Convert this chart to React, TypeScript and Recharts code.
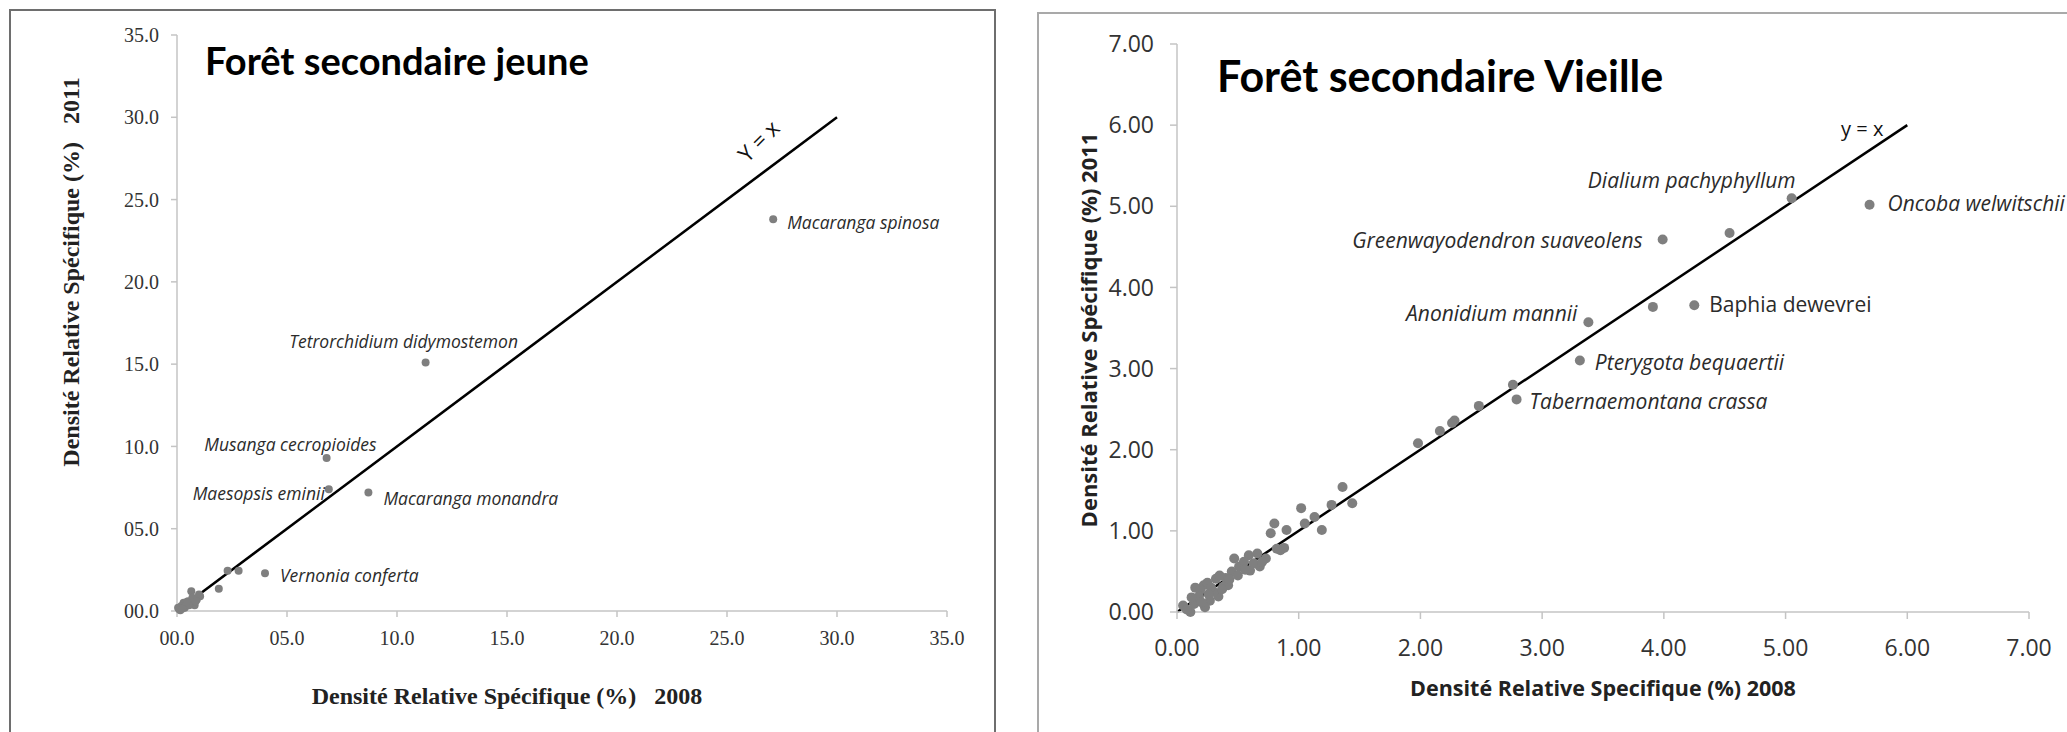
import React from "react";
import {
  ScatterChart,
  Scatter,
  XAxis,
  YAxis,
  ReferenceLine,
  ReferenceDot,
  Label,
} from "recharts";

// Forêt secondaire jeune : espèces nommées
const jeuneEspeces = [
  "Macaranga spinosa",
  "Tetrorchidium didymostemon",
  "Musanga cecropioides",
  "Maesopsis eminii",
  "Macaranga monandra",
  "Vernonia conferta",
];
const jeune2008 = [27.1, 11.3, 6.8, 6.9, 8.7, 4.0];
const jeune2011 = [23.8, 15.1, 9.3, 7.4, 7.2, 2.3];
// autres espèces (sans nom)
const jeuneAutres2008 = [2.8, 2.3, 1.9, 0.65, 1.05, 0.8, 0.3, 0.1, 0.2, 0.4, 0.5, 0.6, 0.7, 0.9, 1.0, 0.15, 0.35, 0.55, 0.05, 0.25, 0.45, 0.85];
const jeuneAutres2011 = [2.45, 2.45, 1.35, 1.2, 0.9, 0.35, 0.5, 0.1, 0.3, 0.3, 0.6, 0.5, 0.8, 0.7, 1.0, 0.05, 0.2, 0.35, 0.2, 0.15, 0.55, 0.6];
const jeuneTicks = [0, 5, 10, 15, 20, 25, 30, 35];
const jeuneDiag = [0, 30];

// Forêt secondaire vieille : espèces nommées
const vieilleEspeces = [
  "Dialium pachyphyllum",
  "Oncoba welwitschii",
  "Greenwayodendron suaveolens",
  "Baphia dewevrei",
  "Anonidium mannii",
  "Pterygota bequaertii",
  "Tabernaemontana crassa",
];
const vieille2008 = [5.05, 5.69, 3.99, 4.25, 3.38, 3.31, 2.79];
const vieille2011 = [5.1, 5.02, 4.59, 3.78, 3.57, 3.1, 2.62];
const vieilleAutres2008 = [
  4.54, 3.91, 2.76, 2.48, 2.28, 2.26, 2.16, 1.98, 1.36, 1.44, 1.27, 1.02, 1.13, 1.19, 1.05, 0.8, 0.77, 0.9, 0.85, 0.82,
  0.47, 0.59, 0.66, 0.73, 0.6, 0.68, 0.51, 0.55, 0.63, 0.7, 0.45, 0.4, 0.32, 0.22, 0.19, 0.38, 0.27, 0.11, 0.05, 0.14,
  0.23, 0.34, 0.42, 0.18, 0.25, 0.3, 0.15, 0.35, 0.08, 0.2, 0.28, 0.12, 0.26, 0.37, 0.43, 0.5, 0.56, 0.88,
];
const vieilleAutres2011 = [
  4.67, 3.76, 2.8, 2.54, 2.36, 2.33, 2.23, 2.08, 1.54, 1.34, 1.32, 1.28, 1.17, 1.01, 1.09, 1.09, 0.97, 1.01, 0.76, 0.78,
  0.66, 0.7, 0.72, 0.66, 0.51, 0.56, 0.56, 0.62, 0.6, 0.62, 0.5, 0.42, 0.41, 0.33, 0.27, 0.31, 0.14, 0.0, 0.08, 0.1,
  0.06, 0.19, 0.33, 0.19, 0.36, 0.25, 0.3, 0.45, 0.03, 0.12, 0.3, 0.18, 0.22, 0.28, 0.4, 0.45, 0.52, 0.79,
];
const vieilleTicks = [0, 1, 2, 3, 4, 5, 6, 7];
const vieilleDiag = [0, 6];

const jeuneNommes = jeuneEspeces.map((name, i) => ({ name, x: jeune2008[i], y: jeune2011[i] }));
const jeuneAutres = jeuneAutres2008.map((x, i) => ({ x, y: jeuneAutres2011[i] }));
const vieilleNommes = vieilleEspeces.map((name, i) => ({ name, x: vieille2008[i], y: vieille2011[i] }));
const vieilleAutres = vieilleAutres2008.map((x, i) => ({ x, y: vieilleAutres2011[i] }));

const DOT = "#7f7f7f";

// placement des étiquettes : [ancre, dx, dy, italique]
type Place = [string, number, number, boolean];
const placeJeune: Record<string, Place> = {
  "Macaranga spinosa": ["start", 14, 3, true],
  "Tetrorchidium didymostemon": ["middle", -22, -21, true],
  "Musanga cecropioides": ["end", 50, -14, true],
  "Maesopsis eminii": ["end", -4, 4, true],
  "Macaranga monandra": ["start", 15, 5, true],
  "Vernonia conferta": ["start", 15, 2, true],
};
const placeVieille: Record<string, Place> = {
  "Dialium pachyphyllum": ["end", 4, -18, true],
  "Oncoba welwitschii": ["start", 18, -2, true],
  "Greenwayodendron suaveolens": ["end", -20, 0, true],
  "Baphia dewevrei": ["start", 15, -1, false],
  "Anonidium mannii": ["end", -11, -9, true],
  "Pterygota bequaertii": ["start", 15, 2, true],
  "Tabernaemontana crassa": ["start", 13, 2, true],
};

const dot = (r: number) => (p: any) => <circle cx={p.cx} cy={p.cy} r={r} fill={DOT} />;

const labelledDot =
  (r: number, place: Record<string, Place>, font: string, size: number) => (p: any) => {
    const [anchor, dx, dy, italic] = place[p.payload.name];
    return (
      <g>
        <circle cx={p.cx} cy={p.cy} r={r} fill={DOT} />
        <text
          x={p.cx + dx}
          y={p.cy + dy}
          textAnchor={anchor as any}
          dominantBaseline="central"
          fontFamily={font}
          fontSize={size}
          fontStyle={italic ? "italic" : "normal"}
          fill="#2b2b2b"
        >
          {p.payload.name}
        </text>
      </g>
    );
  };

const fmtJeune = (v: number) => (v < 10 ? "0" : "") + v.toFixed(1);
const fmtVieille = (v: number) => v.toFixed(2);

const SERIF = "'Liberation Serif', 'DejaVu Serif', serif";
const SANS = "'Open Sans', 'Noto Sans', sans-serif";

const axisGrey = "#c4c4c4";

const JeuneChart = () => (
  <ScatterChart width={1000} height={732} margin={{ top: 35, right: 53, bottom: 91, left: 117 }}>
    <XAxis
      type="number"
      dataKey="x"
      domain={[0, 35]}
      ticks={jeuneTicks}
      tickFormatter={fmtJeune}
      height={30}
      tickSize={6}
      tickMargin={14}
      axisLine={{ stroke: axisGrey, strokeWidth: 1.5 }}
      tickLine={{ stroke: axisGrey, strokeWidth: 1.5 }}
      tick={{ fill: "#333", fontFamily: SERIF, fontSize: 20 }}
    >
      <Label
        content={() => (
          <text x={507} y={704} textAnchor="middle" fontFamily={SERIF} fontWeight="bold" fontSize={24} fill="#222" style={{ whiteSpace: "pre" }}>
            {"Densité Relative Spécifique (%)   2008"}
          </text>
        )}
      />
    </XAxis>
    <YAxis
      type="number"
      dataKey="y"
      domain={[0, 35]}
      ticks={jeuneTicks}
      tickFormatter={fmtJeune}
      width={60}
      tickSize={6}
      tickMargin={12}
      axisLine={{ stroke: axisGrey, strokeWidth: 1.5 }}
      tickLine={{ stroke: axisGrey, strokeWidth: 1.5 }}
      tick={{ fill: "#333", fontFamily: SERIF, fontSize: 20 }}
    >
      <Label
        content={() => (
          <text
            x={71}
            y={272}
            transform="rotate(-90 71 272)"
            textAnchor="middle"
            dominantBaseline="central"
            fontFamily={SERIF}
            fontWeight="bold"
            fontSize={24}
            fill="#222"
            style={{ whiteSpace: "pre" }}
          >
            {"Densité Relative Spécifique (%)   2011"}
          </text>
        )}
      />
    </YAxis>
    <Scatter data={jeuneAutres} shape={dot(4)} isAnimationActive={false} />
    <Scatter data={jeuneNommes} shape={labelledDot(4, placeJeune, SANS, 17.5)} isAnimationActive={false} />
    <ReferenceLine
      segment={[
        { x: jeuneDiag[0], y: jeuneDiag[0] },
        { x: jeuneDiag[1], y: jeuneDiag[1] },
      ]}
      stroke="#000"
      strokeWidth={2.5}
    />
    <ReferenceDot
      x={jeuneDiag[1]}
      y={jeuneDiag[1]}
      r={0}
      fill="none"
      stroke="none"
      label={(p: any) => {
        const cx = p.viewBox.x - 79;
        const cy = p.viewBox.y + 23;
        return (
          <text x={cx} y={cy} transform={`rotate(-45 ${cx} ${cy})`} textAnchor="middle" dominantBaseline="central" fontFamily={SANS} fontSize={22} fill="#111">
            Y = x
          </text>
        );
      }}
    />
  </ScatterChart>
);

const VieilleChart = () => (
  <ScatterChart width={1028} height={732} margin={{ top: 44, right: 38, bottom: 90, left: 78 }}>
    <XAxis
      type="number"
      dataKey="x"
      domain={[0, 7]}
      ticks={vieilleTicks}
      tickFormatter={fmtVieille}
      height={30}
      tickSize={7}
      tickMargin={21}
      axisLine={{ stroke: axisGrey, strokeWidth: 1.5 }}
      tickLine={{ stroke: axisGrey, strokeWidth: 1.5 }}
      tick={{ fill: "#333", fontFamily: SANS, fontSize: 23 }}
    >
      <Label
        content={() => (
          <text x={564} y={696} textAnchor="middle" fontFamily={SANS} fontWeight="bold" fontSize={21.5} fill="#222">
            Densité Relative Specifique (%) 2008
          </text>
        )}
      />
    </XAxis>
    <YAxis
      type="number"
      dataKey="y"
      domain={[0, 7]}
      ticks={vieilleTicks}
      tickFormatter={fmtVieille}
      width={60}
      tickSize={7}
      tickMargin={16}
      axisLine={{ stroke: axisGrey, strokeWidth: 1.5 }}
      tickLine={{ stroke: axisGrey, strokeWidth: 1.5 }}
      tick={{ fill: "#333", fontFamily: SANS, fontSize: 23 }}
    >
      <Label
        content={() => (
          <text
            x={49}
            y={330}
            transform="rotate(-90 49 330)"
            textAnchor="middle"
            dominantBaseline="central"
            fontFamily={SANS}
            fontWeight="bold"
            fontSize={22}
            fill="#222"
          >
            Densité Relative Spécifique (%) 2011
          </text>
        )}
      />
    </YAxis>
    <Scatter data={vieilleAutres} shape={dot(5)} isAnimationActive={false} />
    <Scatter data={vieilleNommes} shape={labelledDot(5, placeVieille, SANS, 21)} isAnimationActive={false} />
    <ReferenceLine
      segment={[
        { x: vieilleDiag[0], y: vieilleDiag[0] },
        { x: vieilleDiag[1], y: vieilleDiag[1] },
      ]}
      stroke="#000"
      strokeWidth={2.5}
    />
    <ReferenceDot
      x={vieilleDiag[1]}
      y={vieilleDiag[1]}
      r={0}
      fill="none"
      stroke="none"
      label={(p: any) => (
        <text x={p.viewBox.x - 45} y={p.viewBox.y + 3} textAnchor="middle" dominantBaseline="central" fontFamily={SANS} fontSize={20} fill="#111">
          y = x
        </text>
      )}
    />
  </ScatterChart>
);

export default function App() {
  return (
    <div style={{ position: "absolute", left: 0, top: 0, width: 2067, height: 732, background: "#fff", overflow: "hidden" }}>
      <div style={{ position: "absolute", left: 0, top: 0 }}>
        <JeuneChart />
      </div>
      <div style={{ position: "absolute", left: 1039, top: 0 }}>
        <VieilleChart />
      </div>
      <svg width={2067} height={732} style={{ position: "absolute", left: 0, top: 0, pointerEvents: "none" }}>
        <rect x={10} y={10} width={985} height={800} fill="none" stroke="#6e6e6e" strokeWidth={2} />
        <rect x={1038} y={13} width={1100} height={800} fill="none" stroke="#a9a9a9" strokeWidth={2} />
        <text x={205} y={75} fontFamily="Lato, sans-serif" fontWeight="bold" fontSize={38} fill="#000">
          Forêt secondaire jeune
        </text>
        <text x={1217} y={92} fontFamily="Lato, sans-serif" fontWeight="bold" fontSize={43} fill="#000">
          Forêt secondaire Vieille
        </text>
      </svg>
    </div>
  );
}
